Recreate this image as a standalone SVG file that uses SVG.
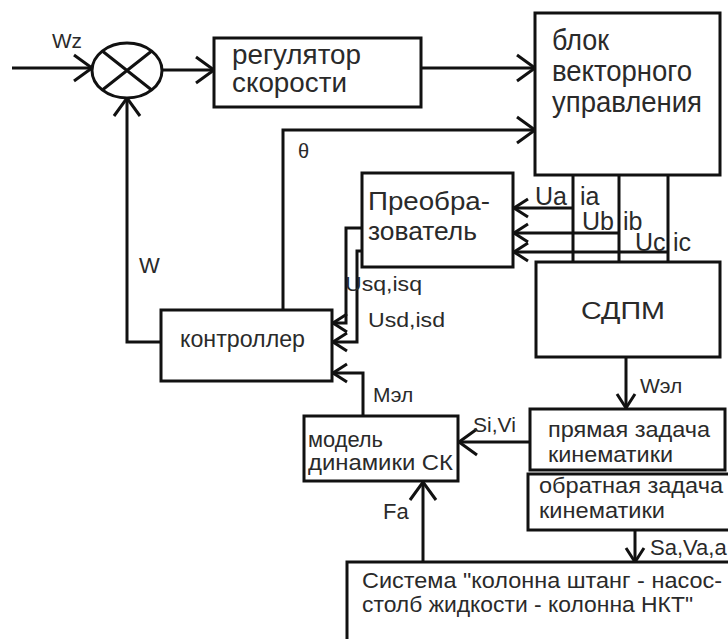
<svg xmlns="http://www.w3.org/2000/svg" width="728" height="639" viewBox="0 0 728 639">
<defs>
<style>
.box{fill:#fff;stroke:#111;stroke-width:3}
.ln{fill:none;stroke:#111;stroke-width:3}
.ab{marker-end:url(#big)}
.as{marker-end:url(#small)}
text{font-family:"Liberation Sans",Arial,sans-serif;fill:#2a2a2a}
.t30{font-size:30px}
.t28{font-size:28px}
.t25{font-size:25px}
.t24{font-size:24px}
.t22{font-size:22px}
.t21{font-size:21px}
.t20{font-size:20px}
</style>
<marker id="big" markerUnits="userSpaceOnUse" markerWidth="40" markerHeight="40" viewBox="-20 -20 40 40" refX="0" refY="0" orient="auto"><path d="M-18,-13 L0,0 L-18,13" fill="none" stroke="#111" stroke-width="3"/></marker>
<marker id="small" markerUnits="userSpaceOnUse" markerWidth="40" markerHeight="40" viewBox="-20 -20 40 40" refX="0" refY="0" orient="auto"><path d="M-14,-9 L0,0 L-14,9" fill="none" stroke="#111" stroke-width="3"/></marker>
</defs>
<rect width="728" height="639" fill="#fff"/>

<g id="connectors">
<path class="ln ab" d="M12,68 H92"/>
<path class="ln ab" d="M162,70 H214"/>
<path class="ln ab" d="M421,68 H535"/>
<path class="ln ab" d="M283,310 V130 H535"/>
<path class="ln ab" d="M161,342 H127 V98"/>
<path class="ln" d="M573,175 V262 M619,175 V262 M668,175 V262"/>
<path class="ln as" d="M573,208 H514"/>
<path class="ln as" d="M619,233 H514"/>
<path class="ln as" d="M668,252 H514"/>
<path class="ln as" d="M362,228 H346 V323 H333"/>
<path class="ln as" d="M362,251 H357 V342 H333"/>
<path class="ln as" d="M363,415 V373 H333"/>
<path class="ln as" d="M626,357 V408"/>
<path class="ln ab" d="M530,442 H459"/>
<path class="ln as" d="M635,530 V562"/>
<path class="ln ab" d="M423,562 V482"/>
<text class="t20" x="52" y="48" textLength="30" lengthAdjust="spacingAndGlyphs">Wz</text>
<text class="t20" x="298" y="158">θ</text>
<text class="t22" x="139" y="273">W</text>
<text class="t25" x="535" y="205">Ua</text>
<text class="t25" x="580" y="205">ia</text>
<text class="t25" x="582" y="230">Ub</text>
<text class="t25" x="623" y="230">ib</text>
<text class="t25" x="635" y="251">Uc</text>
<text class="t25" x="673" y="251">ic</text>
<text class="t21" x="345" y="291" textLength="77" lengthAdjust="spacingAndGlyphs">Usq,isq</text>
<text class="t21" x="368" y="327" textLength="77" lengthAdjust="spacingAndGlyphs">Usd,isd</text>
<text class="t21" x="373" y="402">Мэл</text>
<text class="t21" x="640" y="393">Wэл</text>
<text class="t21" x="473" y="432">Si,Vi</text>
<text class="t22" x="383" y="519">Fa</text>
<text class="t22" x="650" y="555">Sa,Va,a</text>
</g>

<g id="sum">
<ellipse class="box" cx="127" cy="70.5" rx="35" ry="27.5"/>
<path class="ln" d="M102.3,51 L151.7,90 M151.7,51 L102.3,90"/>
</g>

<g id="regulator">
<rect class="box" x="214" y="38" width="207" height="69"/>
<text class="t28" x="232" y="64" textLength="129" lengthAdjust="spacingAndGlyphs">регулятор</text>
<text class="t28" x="232" y="92" textLength="115" lengthAdjust="spacingAndGlyphs">скорости</text>
</g>

<g id="vector-control">
<rect class="box" x="535" y="13" width="185" height="162"/>
<text class="t30" x="552" y="50" textLength="57" lengthAdjust="spacingAndGlyphs">блок</text>
<text class="t30" x="552" y="81" textLength="140" lengthAdjust="spacingAndGlyphs">векторного</text>
<text class="t30" x="552" y="112" textLength="150" lengthAdjust="spacingAndGlyphs">управления</text>
</g>

<g id="converter">
<rect class="box" x="362" y="173" width="151" height="94"/>
<text class="t25" x="368" y="210" textLength="122" lengthAdjust="spacingAndGlyphs">Преобра-</text>
<text class="t25" x="368" y="240" textLength="109" lengthAdjust="spacingAndGlyphs">зователь</text>
</g>

<g id="sdpm">
<rect class="box" x="536" y="262" width="184" height="95"/>
<text class="t24" x="581" y="319" textLength="84" lengthAdjust="spacingAndGlyphs">СДПМ</text>
</g>

<g id="controller">
<rect class="box" x="161" y="310" width="171" height="71"/>
<text class="t24" x="180" y="347" textLength="125" lengthAdjust="spacingAndGlyphs">контроллер</text>
</g>

<g id="dynamics-model">
<rect class="box" x="304" y="416" width="154" height="65"/>
<text class="t22" x="308" y="447" textLength="75" lengthAdjust="spacingAndGlyphs">модель</text>
<text class="t22" x="308" y="470" textLength="145" lengthAdjust="spacingAndGlyphs">динамики СК</text>
</g>

<g id="direct-kinematics">
<rect class="box" x="530" y="409" width="195" height="61"/>
<text class="t22" x="548" y="437" textLength="162" lengthAdjust="spacingAndGlyphs">прямая задача</text>
<text class="t22" x="548" y="462" textLength="125" lengthAdjust="spacingAndGlyphs">кинематики</text>
</g>

<g id="inverse-kinematics">
<rect class="box" x="528" y="474" width="205" height="56"/>
<text class="t22" x="539" y="493" textLength="184" lengthAdjust="spacingAndGlyphs">обратная задача</text>
<text class="t22" x="539" y="518" textLength="126" lengthAdjust="spacingAndGlyphs">кинематики</text>
</g>

<g id="system">
<rect class="box" x="347" y="562" width="400" height="100"/>
<text class="t22" x="362" y="588" textLength="360" lengthAdjust="spacingAndGlyphs">Система "колонна штанг - насос-</text>
<text class="t22" x="362" y="612" textLength="331" lengthAdjust="spacingAndGlyphs">столб жидкости - колонна НКТ"</text>
</g>
</svg>
